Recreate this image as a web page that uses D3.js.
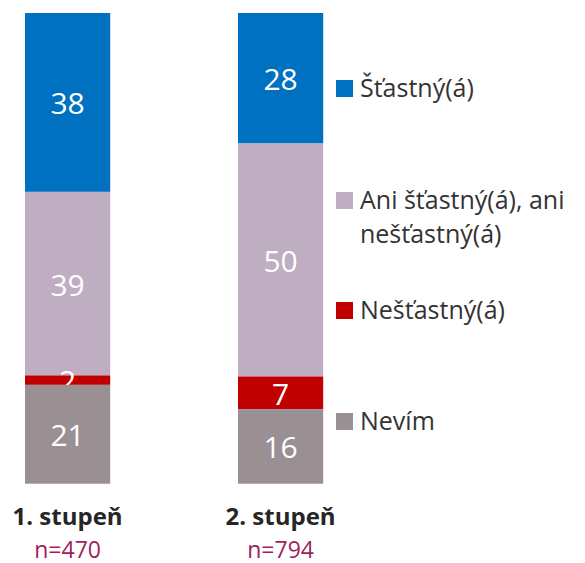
<!DOCTYPE html>
<html>
<head>
<meta charset="utf-8">
<script src="https://cdn.jsdelivr.net/npm/d3@7"></script>
<style>
body { margin: 0; background: #fff; }
svg text { font-family: "Open Sans", "Noto Sans", sans-serif; }
</style>
</head>
<body>
<svg width="585" height="563"></svg>
<script>
var svg = d3.select("svg");

// data
var groups = ["1. stupeň", "2. stupeň"];
var sampleSizes = ["n=470", "n=794"];
var categories = ["Šťastný(á)", "Ani šťastný(á), ani nešťastný(á)", "Nešťastný(á)", "Nevím"];
var legendLines = [["Šťastný(á)"], ["Ani šťastný(á), ani", "nešťastný(á)"], ["Nešťastný(á)"], ["Nevím"]];
var happy = [38, 28];
var neither = [39, 50];
var unhappy = [2, 7];
var dontKnow = [21, 16];
var colors = ["#0070c0", "#bfadc2", "#c00000", "#9a8f93"];

var rows = groups.map(function(g, i) {
    var r = {group: g};
    r[categories[0]] = happy[i];
    r[categories[1]] = neither[i];
    r[categories[2]] = unhappy[i];
    r[categories[3]] = dontKnow[i];
    return r;
});

var stack = d3.stack()
    .keys(categories)
    .offset(d3.stackOffsetExpand);
var series = stack(rows);

var x = d3.scaleBand()
    .domain(groups)
    .range([25, 323.2])
    .paddingInner(0.6);

// top-down stacking: first series at the top
var y = d3.scaleLinear()
    .domain([0, 1])
    .range([13, 483.7]);

var color = d3.scaleOrdinal()
    .domain(categories)
    .range(colors);

var layer = svg.selectAll(".layer")
    .data(series)
    .enter().append("g")
    .attr("class", "layer")
    .attr("fill", function(d) { return color(d.key); });

layer.selectAll("rect")
    .data(function(d) { return d; })
    .enter().append("rect")
    .attr("x", function(d) { return x(d.data.group); })
    .attr("width", x.bandwidth())
    .attr("y", function(d) { return y(d[0]); })
    .attr("height", function(d) { return y(d[1]) - y(d[0]); });

layer.selectAll("text")
    .data(function(d) { return d.map(function(p) { return {p: p, key: d.key}; }); })
    .enter().append("text")
    .attr("x", function(d) { return x(d.p.data.group) + x.bandwidth() / 2; })
    .attr("y", function(d) { return (y(d.p[0]) + y(d.p[1])) / 2; })
    .attr("dy", "0.4em")
    .attr("text-anchor", "middle")
    .attr("fill", "#fff")
    .style("font-size", "30px")
    .text(function(d) { return d.p.data[d.key]; });

// group labels
var lab = svg.selectAll(".grp")
    .data(groups)
    .enter().append("g")
    .attr("class", "grp");

lab.append("text")
    .attr("x", function(d) { return x(d) + x.bandwidth() / 2; })
    .attr("y", 525)
    .attr("text-anchor", "middle")
    .attr("fill", "#262626")
    .style("font-size", "24px")
    .style("font-weight", "bold")
    .text(function(d) { return d; });

lab.append("text")
    .attr("x", function(d) { return x(d) + x.bandwidth() / 2; })
    .attr("y", 558)
    .attr("text-anchor", "middle")
    .attr("fill", "#9e1f5a")
    .style("font-size", "23px")
    .text(function(d, i) { return sampleSizes[i]; });

// legend
var legendY = [88, 200, 310, 421];
var legend = svg.selectAll(".legend")
    .data(categories)
    .enter().append("g")
    .attr("class", "legend")
    .attr("transform", function(d, i) { return "translate(336," + legendY[i] + ")"; });

legend.append("rect")
    .attr("x", 0)
    .attr("y", -8)
    .attr("width", 17)
    .attr("height", 17)
    .attr("fill", function(d) { return color(d); });

legend.append("text")
    .attr("x", 24)
    .attr("y", 9)
    .attr("fill", "#333")
    .style("font-size", "25px")
    .selectAll("tspan")
    .data(function(d, i) { return legendLines[i]; })
    .enter().append("tspan")
    .attr("x", 24)
    .attr("dy", function(d, i) { return i ? 34 : 0; })
    .text(function(d) { return d; });
</script>
</body>
</html>
